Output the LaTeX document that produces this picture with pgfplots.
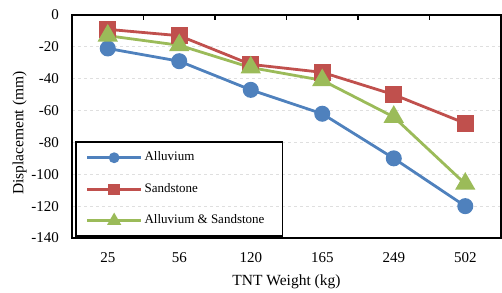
\documentclass[border=0pt]{standalone}
\usepackage{pgfplots}
\pgfplotsset{compat=1.18}
\usepackage{fontspec}
\setmainfont{Liberation Serif}
\definecolor{cA}{HTML}{4F81BD}
\definecolor{cS}{HTML}{C0504D}
\definecolor{cG}{HTML}{9BBB59}
\begin{document}
\begin{tikzpicture}
\useasboundingbox (0,0) rectangle (502pt,292pt);
\begin{axis}[
  at={(72pt,54pt)}, anchor=south west,
  scale only axis, width=429pt, height=223pt,
  xmin=-0.5, xmax=5.5, ymin=-140, ymax=0,
  xtick={0,1,2,3,4,5},
  xticklabels={25,56,120,165,249,502},
  minor x tick num=1,
  xtick pos=upper, xticklabel pos=lower,
  ytick={-140,-120,-100,-80,-60,-40,-20,0},
  yticklabels={-140,-120,-100,-80,-60,-40,-20,0},
  ytick pos=left,
  major tick length=0pt, minor tick length=5pt,
  tick align=inside,
  minor tick style={black, line width=1.2pt},
  axis line style={black, line width=1.5pt},
  ymajorgrids, grid style={dashed, gray!25, line width=0.8pt},
  tick label style={font=\fontsize{15}{17}\selectfont},
  yticklabel style={inner sep=0pt, xshift=-13pt},
  xticklabel style={inner sep=0pt, yshift=-14pt},
  label style={font=\fontsize{15.5}{18}\selectfont},
  xlabel={TNT Weight (kg)},
  ylabel={Displacement (mm)},
  xlabel style={inner sep=0pt, at={(0.5,-0.215)}, anchor=base},
  ylabel style={inner sep=0pt, at={(-0.122,0.47)}, anchor=center},
  legend style={at={(0.007,0.0045)}, anchor=south west, draw=black, line width=1.5pt, fill=none,
    inner xsep=10pt, inner ysep=7.5pt, row sep=15.5pt,
    font=\fontsize{13}{15}\selectfont,
    nodes={inner sep=2pt, text height=9pt, text depth=3pt}},
  legend cell align=left,
  legend image code/.code={\draw[mark repeat=2, mark phase=2, line width=2.8pt, every mark/.append style={scale=0.6}] plot coordinates {(0pt,0pt) (27pt,0pt) (54pt,0pt)};},
  every axis plot/.append style={line width=2.8pt},
]
\addplot[color=cA, mark=*, mark size=6.6pt, mark options={fill=cA, draw=cA}] coordinates {
 (0,-21) (1,-29) (2,-47) (3,-62) (4,-90) (5,-120)};
\addlegendentry{\makebox[126pt][l]{Alluvium}}
\addplot[color=cS, mark=square*, mark size=7.2pt, mark options={fill=cS, draw=cS}] coordinates {
 (0,-9) (1,-13) (2,-31) (3,-36) (4,-50) (5,-68)};
\addlegendentry{\makebox[126pt][l]{Sandstone}}
\addplot[color=cG, mark=triangle*, mark size=9pt, mark options={fill=cG, draw=cG}] coordinates {
 (0,-13) (1,-19) (2,-33) (3,-41) (4,-64) (5,-106)};
\addlegendentry{\makebox[126pt][l]{Alluvium \& Sandstone}}
\end{axis}
\end{tikzpicture}
\end{document}
